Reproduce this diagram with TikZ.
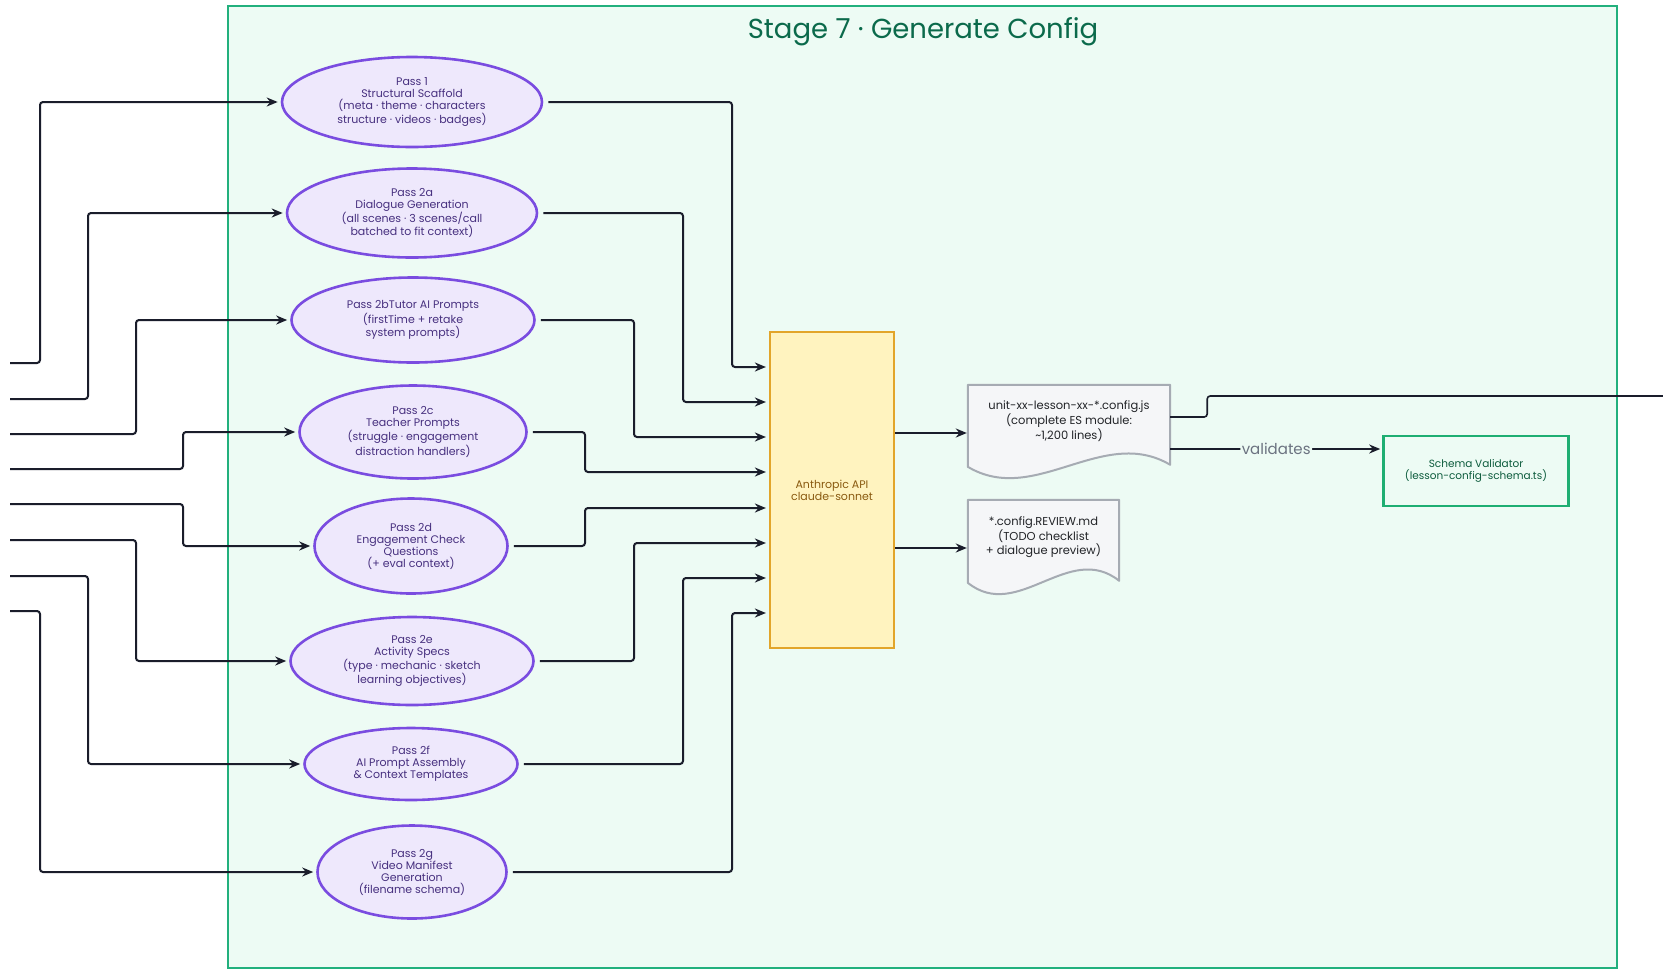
\documentclass[tikz,border=0pt]{standalone}
\usepackage{fontspec}
\setmainfont{Poppins}
\usetikzlibrary{shapes.geometric,arrows.meta,calc}
\definecolor{clusterfill}{HTML}{EDFBF4}
\definecolor{clusteredge}{HTML}{22B07D}
\definecolor{titlegreen}{HTML}{0B6A4B}
\definecolor{passfill}{HTML}{EEE8FC}
\definecolor{passedge}{HTML}{7A4CE0}
\definecolor{passtext}{HTML}{47307F}
\definecolor{apifill}{HTML}{FFF3BF}
\definecolor{apiedge}{HTML}{E2A52A}
\definecolor{apitext}{HTML}{8A5A10}
\definecolor{docfill}{HTML}{F5F6F8}
\definecolor{docedge}{HTML}{A6ABB3}
\definecolor{doctext}{HTML}{222428}
\definecolor{schemaedge}{HTML}{1EAE72}
\definecolor{schematext}{HTML}{0D5C3D}
\definecolor{arrcol}{HTML}{1A1D2B}
\definecolor{labelgray}{HTML}{6B7280}
\begin{document}
\begin{tikzpicture}[x=1pt,y=-1pt,
  cluster/.style={draw=clusteredge, fill=clusterfill, line width=2.2pt, inner sep=0pt},
  pass/.style={ellipse, draw=passedge, fill=passfill, line width=2.6pt, inner sep=0pt,
    text=passtext, align=center, font=\fontsize{11}{12}\selectfont},
  apibox/.style={draw=apiedge, fill=apifill, line width=2.2pt, inner sep=0pt,
    text=apitext, align=center, font=\fontsize{11}{12}\selectfont},
  docarea/.style={inner sep=0pt},
  doctxt/.style={text=doctext, align=center, font=\fontsize{11.5}{12}\selectfont, inner sep=0pt},
  schemabox/.style={draw=schemaedge, fill=clusterfill, line width=2.6pt, inner sep=0pt,
    text=schematext, align=center, font=\fontsize{10.5}{12}\selectfont},
  arr/.style={draw=arrcol, line width=2pt, rounded corners=3pt,
    -{Stealth[length=11pt,width=9pt]}, shorten >=3pt},
  plain/.style={draw=arrcol, line width=1.6pt, rounded corners=3pt},
]
\useasboundingbox (0,0) rectangle (1663,970);
\fill[white] (0,0) rectangle (1663,970);

% cluster
\node[cluster, minimum width=1389pt, minimum height=962pt] (stage) at (922.5,487) {};
\node[text=titlegreen, font=\fontsize{27.5}{27.5}\selectfont, inner sep=0pt] (title) at (923,32) {Stage 7 · Generate Config};

% passes
\node[pass, minimum width=260pt, minimum height=90pt] (p1) at (412,102)
  {Pass 1\\Structural Scaffold\\(meta · theme · characters\\structure · videos · badges)};
\node[pass, minimum width=250pt, minimum height=89pt] (p2a) at (412,213)
  {Pass 2a\\Dialogue Generation\\(all scenes · 3 scenes/call\\batched to fit context)};
\node[pass, minimum width=243pt, minimum height=85pt] (p2b) at (413,320)
  {Pass 2bTutor AI Prompts\\(firstTime + retake\\system prompts)};
\node[pass, minimum width=227pt, minimum height=93pt] (p2c) at (413,432)
  {Pass 2c\\Teacher Prompts\\(struggle · engagement\\distraction handlers)};
\node[pass, minimum width=193pt, minimum height=95pt] (p2d) at (411,546)
  {Pass 2d\\Engagement Check\\Questions\\(+ eval context)};
\node[pass, minimum width=243pt, minimum height=88pt] (p2e) at (412,661)
  {Pass 2e\\Activity Specs\\(type · mechanic · sketch\\learning objectives)};
\node[pass, minimum width=213pt, minimum height=72pt] (p2f) at (411,764)
  {Pass 2f\\AI Prompt Assembly\\\& Context Templates};
\node[pass, minimum width=189pt, minimum height=93pt] (p2g) at (412,872)
  {Pass 2g\\Video Manifest\\Generation\\(filename schema)};

% API
\node[apibox, minimum width=124pt, minimum height=316pt] (api) at (832,490)
  {Anthropic API\\claude-sonnet};

% documents
\node[docarea, minimum width=202pt, minimum height=96pt] (doc1) at (1069,433) {};
\node[docarea, minimum width=151pt, minimum height=96pt] (doc2) at (1043.5,548) {};
\draw[draw=docedge, fill=docfill, line width=2pt, line join=round]
  (doc1.north west) -- (doc1.north east) -- ($(doc1.north east)+(0,80)$)
  .. controls ($(doc1.north west)+(135,40)$) and ($(doc1.north west)+(67,122)$) ..
  ($(doc1.north west)+(0,82)$) -- cycle;
\draw[draw=docedge, fill=docfill, line width=2pt, line join=round]
  (doc2.north west) -- (doc2.north east) -- ($(doc2.north east)+(0,81)$)
  .. controls ($(doc2.north west)+(101,41)$) and ($(doc2.north west)+(50,123)$) ..
  ($(doc2.north west)+(0,83)$) -- cycle;
\node[doctxt] (doc1t) at ($(doc1)+(0,-12)$)
  {unit-xx-lesson-xx-*.config.js\\(complete ES module:\\\textasciitilde 1,200 lines)};
\node[doctxt] (doc2t) at ($(doc2)+(0,-11)$)
  {*.config.REVIEW.md\\(TODO checklist\\+ dialogue preview)};

% schema validator
\node[schemabox, minimum width=185pt, minimum height=70pt] (schema) at (1476,471)
  {Schema Validator\\(lesson-config-schema.ts)};

% incoming sources (off-picture)
\coordinate (s1) at (10,363);
\coordinate (s2) at (10,399);
\coordinate (s3) at (10,434);
\coordinate (s4) at (10,469);
\coordinate (s5) at (10,504);
\coordinate (s6) at (10,540);
\coordinate (s7) at (10,576);
\coordinate (s8) at (10,611);
\coordinate (v1) at (40,0);
\coordinate (v2) at (88,0);
\coordinate (v3) at (136,0);
\coordinate (v4) at (183,0);
\draw[arr] (s1) -| (p1.west -| v1) -- (p1.west);
\draw[arr] (s2) -| (p2a.west -| v2) -- (p2a.west);
\draw[arr] (s3) -| (p2b.west -| v3) -- (p2b.west);
\draw[arr] (s4) -| (p2c.west -| v4) -- (p2c.west);
\draw[arr] (s5) -| (p2d.west -| v4) -- (p2d.west);
\draw[arr] (s6) -| (p2e.west -| v3) -- (p2e.west);
\draw[arr] (s7) -| (p2f.west -| v2) -- (p2f.west);
\draw[arr] (s8) -| (p2g.west -| v1) -- (p2g.west);

% into API
\coordinate (a1) at ($(api.west)+(0,-123)$);
\coordinate (a2) at ($(api.west)+(0,-88)$);
\coordinate (a3) at ($(api.west)+(0,-53)$);
\coordinate (a4) at ($(api.west)+(0,-18)$);
\coordinate (a5) at ($(api.west)+(0,18)$);
\coordinate (a6) at ($(api.west)+(0,53)$);
\coordinate (a7) at ($(api.west)+(0,88)$);
\coordinate (a8) at ($(api.west)+(0,123)$);
\coordinate (w1) at (732,0);
\coordinate (w2) at (683,0);
\coordinate (w3) at (634,0);
\coordinate (w4) at (585,0);
\draw[arr, shorten <=5pt] (p1.east) -| (a1 -| w1) -- (a1);
\draw[arr, shorten <=5pt] (p2a.east) -| (a2 -| w2) -- (a2);
\draw[arr, shorten <=5pt] (p2b.east) -| (a3 -| w3) -- (a3);
\draw[arr, shorten <=5pt] (p2c.east) -| (a4 -| w4) -- (a4);
\draw[arr, shorten <=5pt] (p2d.east) -| (a5 -| w4) -- (a5);
\draw[arr, shorten <=5pt] (p2e.east) -| (a6 -| w3) -- (a6);
\draw[arr, shorten <=5pt] (p2f.east) -| (a7 -| w2) -- (a7);
\draw[arr, shorten <=5pt] (p2g.east) -| (a8 -| w1) -- (a8);

% outputs
\draw[arr, shorten >=1pt] (api.east |- doc1.west) -- (doc1.west);
\draw[arr, shorten >=1pt] (api.east |- doc2.west) -- (doc2.west);

% doc1 -> schema
\coordinate (d1v) at ($(doc1.east)+(0,16)$);
\draw[arr, shorten >=2pt] (d1v) -- node[fill=clusterfill, text=labelgray,
  font=\fontsize{15}{15}\selectfont, inner sep=1.5pt] (vlab) {validates} (d1v -| schema.west);

% doc1 -> off picture
\coordinate (exit) at (1663,396);
\draw[plain] ($(doc1.east)+(0,-16)$) -- ++(37,0) |- (exit);
\end{tikzpicture}
\end{document}
